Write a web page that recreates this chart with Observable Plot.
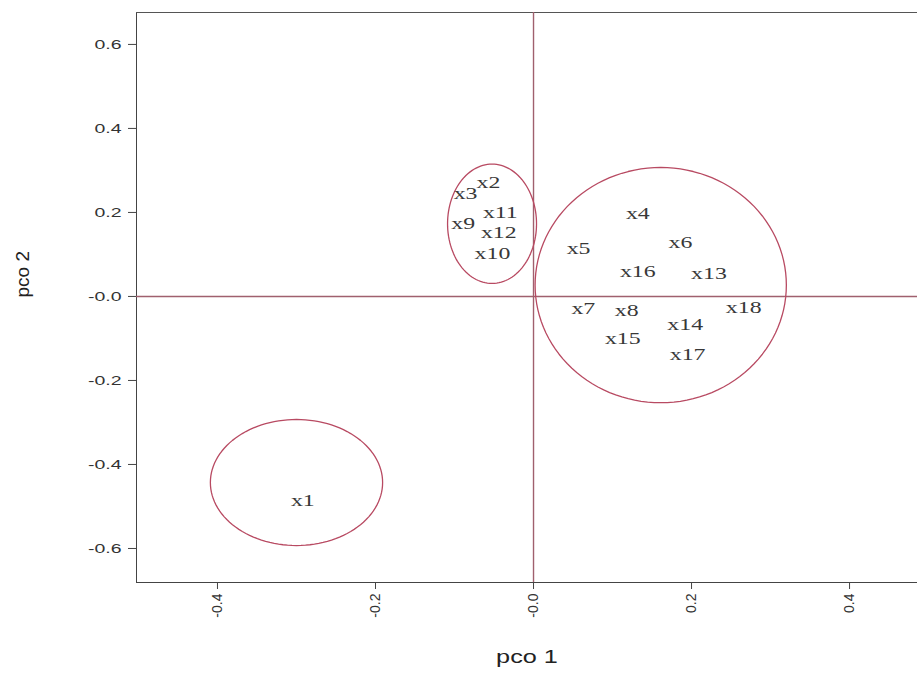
<!DOCTYPE html>
<html>
<head>
<meta charset="utf-8">
<script src="https://cdn.jsdelivr.net/npm/d3@7"></script>
<script src="https://cdn.jsdelivr.net/npm/@observablehq/plot@0.6"></script>
<style>
  html, body { margin: 0; padding: 0; background: #fff; overflow: hidden; }
  svg { display: block; }
</style>
</head>
<body>
<script>
// ---- data ----
const labels = ["x1","x2","x3","x4","x5","x6","x7","x8","x9","x10","x11","x12","x13","x14","x15","x16","x17","x18"];
const pco1 = [-0.292,-0.057,-0.086,0.132,0.057,0.186,0.063,0.118,-0.089,-0.052,-0.042,-0.044,0.222,0.192,0.113,0.132,0.195,0.266];
const pco2 = [-0.486,0.271,0.245,0.198,0.114,0.129,-0.029,-0.033,0.174,0.102,0.200,0.152,0.055,-0.067,-0.100,0.060,-0.138,-0.026];

// group ellipses (center and radii in data units)
const ellipseId = ["A","B","C"];
const ellipseCx = [-0.300,-0.0525,0.161];
const ellipseCy = [-0.443,0.173,0.027];
const ellipseRx = [0.109,0.0563,0.159];
const ellipseRy = [0.150,0.142,0.280];

const xTicks = [-0.4,-0.2,0,0.2,0.4];
const xTickLabels = ["-0.4","-0.2","-0.0","0.2","0.4"];
const yTicks = [-0.6,-0.4,-0.2,0,0.2,0.4,0.6];
const yTickLabels = ["-0.6","-0.4","-0.2","-0.0","0.2","0.4","0.6"];
const xDomain = [-0.5025, 0.486];
const yDomain = [-0.681, 0.676];

// ---- build tables ----
const points = labels.map((l, i) => ({label: l, x: pco1[i], y: pco2[i]}));
const ellipsePts = [];
ellipseId.forEach((id, k) => {
  const n = 120;
  for (let j = 0; j <= n; j++) {
    const t = 2 * Math.PI * j / n;
    ellipsePts.push({id, x: ellipseCx[k] + ellipseRx[k] * Math.cos(t), y: ellipseCy[k] + ellipseRy[k] * Math.sin(t)});
  }
});

const chart = Plot.plot({
  width: 917,
  height: 678,
  marginLeft: 136,
  marginRight: 0,
  marginTop: 12,
  marginBottom: 96,
  style: {fontFamily: "'Liberation Sans', Arial, sans-serif", fontSize: "13px", color: "#444", background: "#fff"},
  x: {domain: xDomain, ticks: xTicks, tickFormat: d => xTickLabels[xTicks.indexOf(d)], tickRotate: -90, tickSize: 7, tickPadding: 4, line: true, label: null},
  y: {domain: yDomain, ticks: yTicks, tickFormat: d => yTickLabels[yTicks.indexOf(d)], tickSize: 8, tickPadding: 7, line: true, label: null},
  marks: [
    Plot.frame({anchor: "top", stroke: "#555"}),
    Plot.ruleY([0], {stroke: "#a0606e", strokeWidth: 1.4}),
    Plot.ruleX([0], {stroke: "#a0606e", strokeWidth: 1.4}),
    Plot.line(ellipsePts, {x: "x", y: "y", z: "id", stroke: "#b84a62", strokeWidth: 1.3, curve: "linear"}),
    Plot.text(points, {x: "x", y: "y", text: "label", fill: "#383838", fontSize: 17, fontFamily: "'Liberation Serif', 'Times New Roman', serif", className: "ptlabel"}),
    Plot.text(["pco 1"], {frameAnchor: "bottom", dy: 80, fontSize: 19, fill: "#222", className: "xlab"}),
    Plot.text(["pco 2"], {frameAnchor: "left", dx: -114, rotate: -90, fontSize: 19, fill: "#222"})
  ]
});
document.body.appendChild(chart);

// font sizes of axes
d3.select(chart).selectAll('g[aria-label^="x-axis"] text').style("font-size", "14px").attr("fill", "#333");
d3.select(chart).selectAll('g[aria-label^="y-axis"] text').style("font-size", "13px").attr("fill", "#333");

// horizontal stretching of text, as in the reference picture
function stretch(sel, f) {
  d3.select(chart).selectAll(sel).each(function() {
    const w = this.getComputedTextLength();
    if (w > 0) {
      this.setAttribute("textLength", (w * f).toFixed(1));
      this.setAttribute("lengthAdjust", "spacingAndGlyphs");
    }
  });
}
stretch('g[aria-label^="y-axis"] text', 1.5);
stretch('.ptlabel text', 1.4);
stretch('.xlab text', 1.33);
</script>
</body>
</html>
